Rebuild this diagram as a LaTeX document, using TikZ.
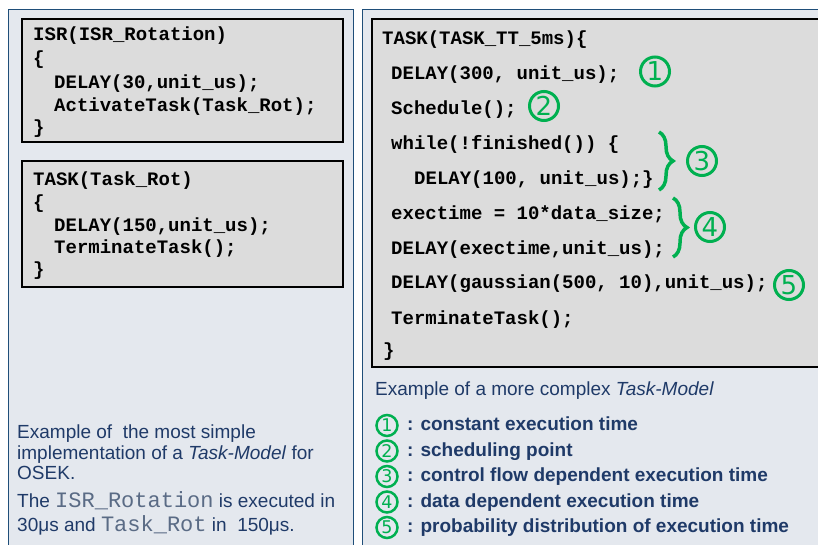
\documentclass[tikz,border=0pt]{standalone}
\usepackage{fontspec}
\setmainfont{Liberation Sans}
\newfontfamily\codefont{Liberation Mono}
\newfontfamily\digitfont{DejaVu Sans}
\usetikzlibrary{decorations.pathreplacing}
\definecolor{panelfill}{HTML}{E4E8EE}
\definecolor{panelline}{HTML}{1F4E79}
\definecolor{codefill}{HTML}{DCDCDC}
\definecolor{navy}{HTML}{1F3A68}
\definecolor{monogrey}{HTML}{5A6B85}
\definecolor{grn}{HTML}{00B050}
\begin{document}
\begin{tikzpicture}[x=1pt,y=-1pt,
  panel/.style={draw=panelline, line width=1.8pt, fill=panelfill, anchor=north west, inner sep=0pt, outer sep=0pt},
  codebox/.style={draw=black, line width=2pt, fill=codefill, anchor=north west, inner sep=0pt, outer sep=0pt},
  code/.style={anchor=base west, inner sep=0pt, font=\codefont\bfseries\fontsize{19}{19}\selectfont},
  txt/.style={anchor=base west, inner sep=0pt, text=navy, font=\fontsize{19}{19}\selectfont},
  leg/.style={anchor=base west, inner sep=0pt, text=navy, font=\bfseries\fontsize{19}{19}\selectfont},
  bignum/.style={circle, draw=grn, line width=3pt, minimum size=29pt, inner sep=0pt, text=grn, font=\digitfont\fontsize{26}{26}\selectfont},
  smallnum/.style={circle, draw=grn, line width=2.5pt, minimum size=21pt, inner sep=0pt, text=grn, font=\digitfont\fontsize{17.5}{17.5}\selectfont},
  gbrace/.style={draw=grn, line width=3.5pt, decorate, decoration={brace, amplitude=14pt}},
]
\useasboundingbox (0,0) rectangle (818,545);
\clip (0,0) rectangle (818,545);
\fill[white] (0,0) rectangle (818,545);

% panels
\node[panel, minimum width=345pt, minimum height=560pt] (lpanel) at (8.5,9.5) {};
\node[panel, minimum width=470pt, minimum height=560pt] (rpanel) at (362.5,9.5) {};

% code boxes
\node[codebox, minimum width=321pt, minimum height=123pt] (isrbox) at (22,19) {};
\node[codebox, minimum width=321pt, minimum height=126pt] (taskbox) at (22,161) {};
\node[codebox, minimum width=460pt, minimum height=348pt] (ttbox) at (372,19) {};

% ISR box
\node[code] (i1) at (33,41) {ISR(ISR\_Rotation)};
\node[code] (i2) at (33,65) {\{};
\node[code] (i3) at (54,88.5) {DELAY(30,unit\_us);};
\node[code] (i4) at (54,112) {ActivateTask(Task\_Rot);};
\node[code] (i5) at (33,134) {\}};

% Task_Rot box
\node[code] (t1) at (33,186) {TASK(Task\_Rot)};
\node[code] (t2) at (33,209) {\{};
\node[code] (t3) at (54,231) {DELAY(150,unit\_us);};
\node[code] (t4) at (54,253) {TerminateTask();};
\node[code] (t5) at (33,275) {\}};

% TT box
\node[code] (c1) at (382,45) {TASK(TASK\_TT\_5ms)\{};
\node[code] (c2) at (391,80) {DELAY(300, unit\_us);};
\node[code] (c3) at (391,115) {Schedule();};
\node[code] (c4) at (391,150) {while(!finished()) \{};
\node[code] (c5) at (414,185) {DELAY(100, unit\_us);\}};
\node[code] (c6) at (391,220) {exectime = 10*data\_size;};
\node[code] (c7) at (391,254) {DELAY(exectime,unit\_us);};
\node[code] (c8) at (391,288) {DELAY(gaussian(500, 10),unit\_us);};
\node[code] (c9) at (391,324) {TerminateTask();};
\node[code] (c10) at (383,356) {\}};

% green markers in code
\node[bignum] (n1) at (655,71.5) {1};
\node[bignum] (n2) at (544,106) {2};
\node[bignum] (n3) at (702,161) {3};
\node[bignum] (n4) at (710,227) {4};
\node[bignum] (n5) at (789,285) {5};

\coordinate (b3t) at (659,132);
\coordinate (b3b) at (659,190);
\coordinate (b4t) at (673,198);
\coordinate (b4b) at (673,257);
\draw[gbrace] (b3t) -- (b3b);
\draw[gbrace] (b4t) -- (b4b);

% left description
\node[txt] (l1) at (17,438) {Example of~ the most simple};
\node[txt] (l2) at (17,459) {implementation of a \textit{Task-Model} for};
\node[txt] (l3) at (17,479) {OSEK.};
\node[txt] (l4) at (17,507) {The {\codefont\fontsize{22}{22}\selectfont\color{monogrey}ISR\_Rotation} is executed in};
\node[txt] (l5) at (17,531.5) {30μs and {\codefont\fontsize{22}{22}\selectfont\color{monogrey}Task\_Rot} in~ 150μs.};

% right description
\node[txt] (r1) at (375,395) {Example of a more complex \textit{Task-Model}};

% legend
\node[smallnum] (s1) at (387,425.5) {1};
\node[smallnum] (s2) at (387,451) {2};
\node[smallnum] (s3) at (387,476.5) {3};
\node[smallnum] (s4) at (387,502) {4};
\node[smallnum] (s5) at (387,527.5) {5};
\node[leg] (g1) at (407,430.5) {: constant execution time};
\node[leg] (g2) at (407,456) {: scheduling point};
\node[leg] (g3) at (407,481.5) {: control flow dependent execution time};
\node[leg] (g4) at (407,507) {: data dependent execution time};
\node[leg] (g5) at (407,532.5) {: probability distribution of execution time};
\end{tikzpicture}
\end{document}
